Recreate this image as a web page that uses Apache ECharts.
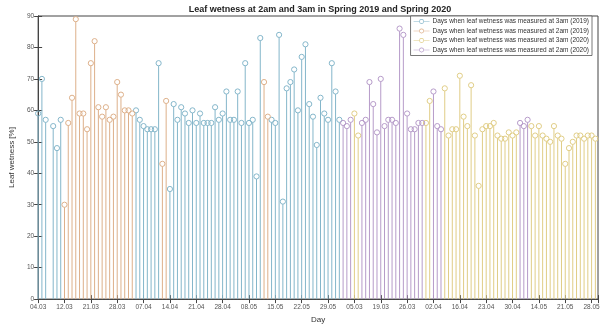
<!DOCTYPE html>
<html><head><meta charset="utf-8">
<script src="https://cdn.jsdelivr.net/npm/echarts@6/dist/echarts.min.js"></script>
<style>html,body{margin:0;padding:0;background:#fff}#c{width:606px;height:329px}</style>
</head><body><div id="c"></div>
<script>
// X tick labels (one every 7 measurement days)
const tickLabels = ['04.03','12.03','21.03','28.03','07.04','14.04','21.04','28.04','08.05','15.05','22.05','29.05','05.03','19.03','26.03','02.04','16.04','23.04','30.04','14.05','21.05','28.05'];

// Days when leaf wetness was measured at 3am (2019)
const days3am2019 = [0,1,2,4,5,6,26,27,28,29,30,31,32,35,36,37,38,39,40,41,42,43,44,45,46,47,48,49,50,51,52,53,54,55,56,57,58,59,62,63,64,65,66,67,68,69,70,71,72,73,74,75,76,77,78,79,80];
const vals3am2019 = [59,70,57,55,48,57,60,57,55,54,54,54,75,35,62,57,61,59,56,60,56,59,56,56,56,61,57,59,66,57,57,66,56,75,56,57,39,83,57,56,84,31,67,69,73,60,77,81,62,58,49,64,59,57,75,66,57];

// Days when leaf wetness was measured at 2am (2019)
const days2am2019 = [7,8,9,10,11,12,13,14,15,16,17,18,19,20,21,22,23,24,25,33,34,60,61];
const vals2am2019 = [30,56,64,89,59,59,54,75,82,61,58,61,57,58,69,65,60,60,59,43,63,69,58];

// Days when leaf wetness was measured at 3am (2020)
const days3am2020 = [84,85,103,104,108,109,110,111,112,113,114,115,116,117,118,119,120,121,122,123,124,125,126,127,131,132,133,134,135,136,137,138,139,140,141,142,143,144,145,146,147,148];
const vals3am2020 = [59,52,56,63,67,52,54,54,71,58,55,68,52,36,54,55,55,56,52,51,51,53,52,53,55,52,55,52,51,50,55,52,51,43,48,50,52,52,51,52,52,51];

// Days when leaf wetness was measured at 2am (2020)
const days2am2020 = [81,82,83,86,87,88,89,90,91,92,93,94,95,96,97,98,99,100,101,102,105,106,107,128,129,130];
const vals2am2020 = [56,55,57,56,57,69,62,53,70,55,57,57,56,86,84,59,54,54,56,56,66,55,54,56,55,57];

const seriesNames = [
  'Days when leaf wetness was measured at 3am (2019)',
  'Days when leaf wetness was measured at 2am (2019)',
  'Days when leaf wetness was measured at 3am (2020)',
  'Days when leaf wetness was measured at 2am (2020)'
];
const colors = ['#84b6ca','#ddb08a','#e0cd86','#b69bc9'];
const sets = [[days3am2019,vals3am2019],[days2am2019,vals2am2019],[days3am2020,vals3am2020],[days2am2020,vals2am2020]];

const FONT = 'Liberation Sans';
function stemSeries(i){
  const d = sets[i][0].map((x,k)=>[x, sets[i][1][k]]);
  const col = colors[i];
  return {
    type:'custom', name:seriesNames[i], data:d,
    itemStyle:{color:col},
    encode:{x:0,y:1},
    renderItem:function(params, api){
      const x = api.value(0), y = api.value(1);
      const top = api.coord([x,y]);
      const base = api.coord([x,0]);
      return {type:'group', children:[
        {type:'line', shape:{x1:top[0],y1:base[1],x2:top[0],y2:top[1]+2.6}, style:{stroke:col,lineWidth:1}},
        {type:'circle', shape:{cx:top[0],cy:top[1],r:2.6}, style:{fill:'rgba(255,255,255,0)',stroke:col,lineWidth:1}}
      ]};
    }
  };
}

// line - hollow circle - line icon, drawn as filled thin shapes
const legendIcon = 'path://M0,4.6L7.2,4.6L7.2,5.4L0,5.4Z M12.8,4.6L20,4.6L20,5.4L12.8,5.4Z M13,5A3,3,0,1,1,7,5A3,3,0,1,1,13,5Z M12.2,5A2.2,2.2,0,1,0,7.8,5A2.2,2.2,0,1,0,12.2,5Z';

const chart = echarts.init(document.getElementById('c'));
chart.setOption({
  animation:false,
  textStyle:{fontFamily:FONT},
  title:{text:'Leaf wetness at 2am and 3am in Spring 2019 and Spring 2020', left:315, textAlign:'center', top:0,
    textStyle:{fontFamily:FONT,fontSize:9,fontWeight:'bold',color:'#222'}},
  legend:{
    orient:'vertical', right:14, top:16, itemWidth:16, itemHeight:5, itemGap:2.5,
    padding:[2,3,2,3], borderColor:'#555', borderWidth:0.8, backgroundColor:'#fff',
    icon:legendIcon,
    textStyle:{fontFamily:FONT,fontSize:6.5,color:'#333',padding:[0,0,0,-2]},
    data:seriesNames
  },
  grid:{left:33, right:8, top:16, bottom:25, show:true, borderColor:'#444', borderWidth:1},
  xAxis:[{
    type:'value', min:0, max:148.7, interval:7,
    name:'Day', nameLocation:'middle', nameGap:13, nameTextStyle:{fontFamily:FONT,fontSize:8,color:'#333'},
    axisLine:{show:true,lineStyle:{color:'#444'}},
    axisTick:{show:true,inside:true,length:4,lineStyle:{color:'#444'}},
    splitLine:{show:false},
    axisLabel:{fontFamily:FONT,fontSize:6.5,color:'#555',margin:5,
      formatter:function(v){ return (v%7===0 && tickLabels[v/7]!==undefined) ? tickLabels[v/7] : ''; }}
  },{
    type:'value', position:'top', min:0, max:148.7, interval:7,
    axisLine:{show:true,lineStyle:{color:'#444'}},
    axisTick:{show:true,inside:true,length:4,lineStyle:{color:'#444'}},
    axisLabel:{show:false}, splitLine:{show:false}
  }],
  yAxis:[{
    type:'value', min:0, max:90, interval:10,
    name:'Leaf wetness [%]', nameLocation:'middle', nameGap:19, nameRotate:90,
    nameTextStyle:{fontFamily:FONT,fontSize:8,color:'#333'},
    axisLine:{show:true,lineStyle:{color:'#444'}},
    axisTick:{show:true,inside:true,length:4,lineStyle:{color:'#444'}},
    splitLine:{show:false},
    axisLabel:{fontFamily:FONT,fontSize:6.5,color:'#555',margin:4}
  },{
    type:'value', position:'right', min:0, max:90, interval:10,
    axisLine:{show:true,lineStyle:{color:'#444'}},
    axisTick:{show:true,inside:true,length:4,lineStyle:{color:'#444'}},
    axisLabel:{show:false}, splitLine:{show:false}
  }],
  series:[0,1,2,3].map(stemSeries)
});
</script>
</body></html>
